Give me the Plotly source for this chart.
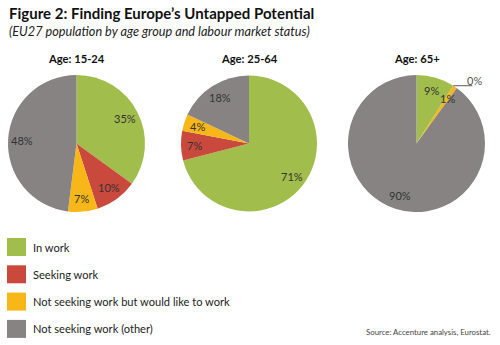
import math
import plotly.graph_objects as go

categories = ["In work", "Seeking work", "Not seeking work but would like to work", "Not seeking work (other)"]
age_groups = ["Age: 15-24", "Age: 25-64", "Age: 65+"]
values_15_24 = [35, 10, 7, 48]
values_25_64 = [71, 7, 4, 18]
values_65 = [9, 0, 1, 90]
series = [values_15_24, values_25_64, values_65]

colors = ["#a1bd4c", "#c94a3d", "#f7b718", "#878382"]
W, H = 500, 345
FONT = "Lato"
LABEL_R = 0.8  # label distance as fraction of radius

# pie boxes in pixels (left, right, top, bottom)
boxes = [(8, 145, 75, 212), (181, 317, 75, 212), (348, 485, 75, 212)]

fig = go.Figure()
ann = []
for vals, (l, r, t, b) in zip(series, boxes):
    fig.add_trace(go.Pie(
        labels=categories, values=vals, sort=False, direction="clockwise", rotation=0,
        marker=dict(colors=colors, line=dict(width=0)),
        textinfo="none",
        domain=dict(x=[l / W, r / W], y=[1 - b / H, 1 - t / H]),
        showlegend=False, hoverinfo="label+value",
    ))
    cx, cy, rad = (l + r) / 2, (t + b) / 2, (r - l) / 2
    total = sum(vals)
    cum = 0
    for v in vals:
        if v > 0:
            a = math.radians((cum + v / 2) / total * 360)
            x = cx + LABEL_R * rad * math.sin(a)
            y = cy - LABEL_R * rad * math.cos(a)
            ann.append(dict(x=x / W, y=1 - y / H, xanchor="center", yanchor="middle",
                            text=f"{v}%", font=dict(family=FONT, size=11, color="#333333"),
                            showarrow=False))
        cum += v

ann.append(dict(x=7 / W, y=1 - 13 / H, xanchor="left", yanchor="middle",
                text="<b>Figure 2: Finding Europe’s Untapped Potential</b>",
                font=dict(family=FONT, size=15, color="#111111"), showarrow=False))
ann.append(dict(x=7 / W, y=1 - 31 / H, xanchor="left", yanchor="middle",
                text="<i>(EU27 population by age group and labour market status)</i>",
                font=dict(family=FONT, size=12.7, color="#222222"), showarrow=False))
for name, (l, r, t, b) in zip(age_groups, boxes):
    ann.append(dict(x=(l + r) / 2 / W, y=1 - 58 / H, xanchor="center", yanchor="middle",
                    text=f"<b>{name}</b>", font=dict(family=FONT, size=11.2, color="#111111"),
                    showarrow=False))

# leader for zero slice in 65+ pie
l, r, t, b = boxes[2]
cx, cy, rad = (l + r) / 2, (t + b) / 2, (r - l) / 2
cum = sum(values_65[:2])
ang = math.radians(cum / sum(values_65) * 360)
px_, py_ = cx + rad * math.sin(ang), cy - rad * math.cos(ang)
fig.add_shape(type="line", xref="paper", yref="paper",
              x0=px_ / W, y0=1 - py_ / H, x1=(px_ + 19) / W, y1=1 - py_ / H,
              line=dict(color="#777777", width=1.2))
ann.append(dict(x=(px_ + 21) / W, y=1 - (py_ - 5) / H, xanchor="center", yanchor="middle",
                text=f"{values_65[1]}%", font=dict(family=FONT, size=11, color="#555555"),
                showarrow=False))

# legend
for i, (cat, col) in enumerate(zip(categories, colors)):
    yc = 247 + i * 27.3
    fig.add_shape(type="rect", xref="paper", yref="paper",
                  x0=7 / W, x1=26 / W, y0=1 - (yc + 9) / H, y1=1 - (yc - 9) / H,
                  fillcolor=col, line=dict(width=0))
    ann.append(dict(x=31 / W, y=1 - yc / H, xanchor="left", yanchor="middle", text=cat,
                    font=dict(family=FONT, size=11.1, color="#222222"), showarrow=False))

ann.append(dict(x=493 / W, y=1 - 332 / H, xanchor="right", yanchor="middle",
                text="Source: Accenture analysis, Eurostat.",
                font=dict(family=FONT, size=7.8, color="#444444"), showarrow=False))

fig.update_layout(width=W, height=H, margin=dict(l=0, r=0, t=0, b=0),
                  paper_bgcolor="white", plot_bgcolor="white", annotations=ann)
fig.write_html("out.html")
